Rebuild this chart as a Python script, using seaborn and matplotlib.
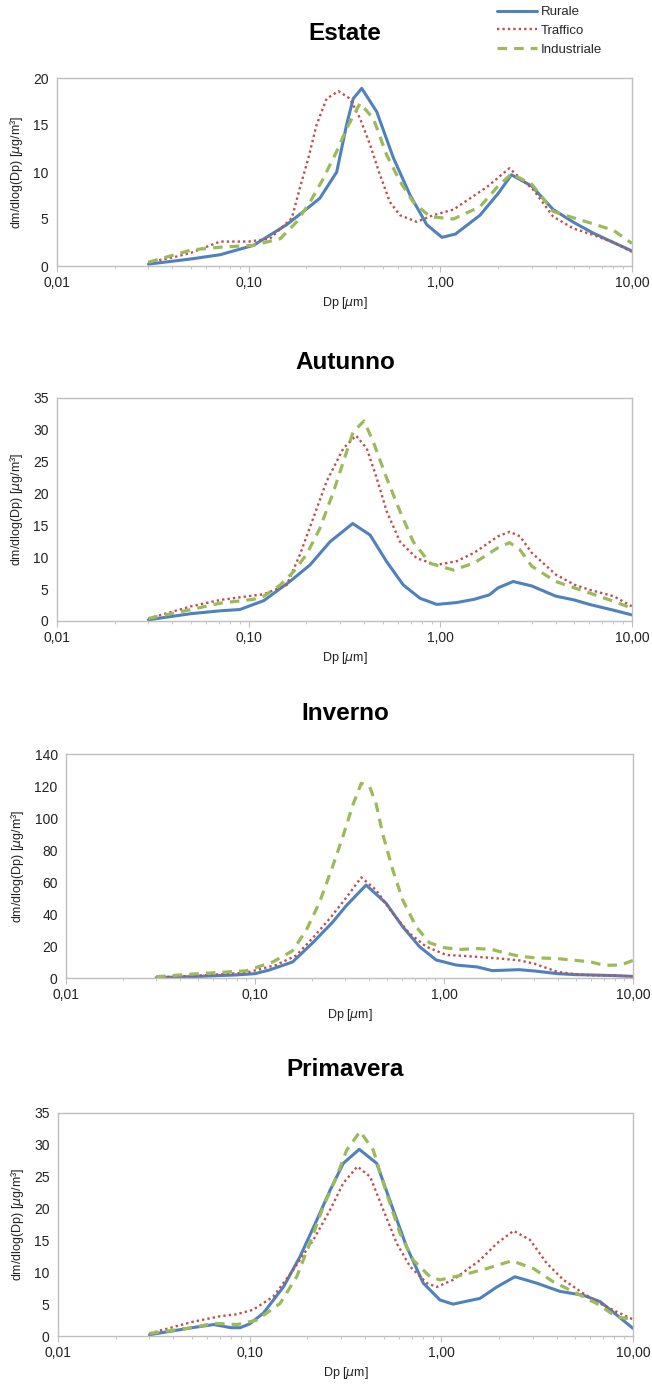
import numpy as np
import pandas as pd
import matplotlib
matplotlib.use("Agg")
import matplotlib.pyplot as plt
import seaborn as sns
from matplotlib.ticker import FixedLocator, FixedFormatter, LogLocator, NullFormatter

# ---------------- data ----------------
seasons = ["Estate", "Autunno", "Inverno", "Primavera"]
series_names = ["Rurale", "Traffico", "Industriale"]
y_limits = [20, 35, 140, 35]
y_steps = [5, 5, 20, 5]
x_ticks = [0.01, 0.1, 1, 10]
x_tick_labels = ["0,01", "0,10", "1,00", "10,00"]

# Estate
est_rur_x = [0.03, 0.05, 0.071, 0.106, 0.158, 0.193, 0.235, 0.288, 0.324, 0.351, 0.389, 0.466, 0.569, 0.695, 0.849, 1.02, 1.2, 1.61, 2.0, 2.35, 3.0, 3.88, 5.0, 6.28, 8, 10]
est_rur_y = [0.2, 0.75, 1.2, 2.2, 4.4, 5.8, 7.2, 10.0, 15.0, 17.8, 18.9, 16.4, 11.5, 7.55, 4.4, 3.05, 3.4, 5.4, 7.7, 9.7, 8.5, 6.0, 4.6, 3.5, 2.5, 1.6]
est_tra_x = [0.03, 0.04, 0.05, 0.071, 0.1, 0.129, 0.168, 0.185, 0.205, 0.226, 0.255, 0.294, 0.338, 0.381, 0.43, 0.484, 0.546, 0.616, 0.753, 0.918, 1.17, 1.75, 2.29, 3.06, 3.88, 4.94, 6.28, 8, 10]
est_tra_y = [0.4, 0.9, 1.4, 2.6, 2.6, 2.9, 5.1, 8.3, 11.5, 15.0, 17.8, 18.6, 17.8, 15.7, 12.9, 9.7, 6.8, 5.4, 4.7, 5.4, 6.0, 8.4, 10.4, 8.1, 5.25, 4.0, 3.3, 2.5, 1.5]
est_ind_x = [0.03, 0.05, 0.071, 0.106, 0.146, 0.178, 0.209, 0.245, 0.288, 0.324, 0.381, 0.447, 0.525, 0.616, 0.722, 0.883, 1.17, 1.61, 2.0, 2.35, 3.0, 3.88, 5.0, 5.8, 8, 10]
est_ind_y = [0.4, 1.7, 2.0, 2.2, 2.9, 4.7, 6.8, 9.3, 12.2, 14.6, 17.3, 15.7, 11.8, 9.0, 6.8, 5.25, 5.0, 6.3, 8.5, 9.8, 8.7, 5.8, 5.1, 4.7, 3.8, 2.4]

# Autunno
aut_rur_x = [0.03, 0.05, 0.071, 0.09, 0.106, 0.12, 0.164, 0.209, 0.266, 0.349, 0.43, 0.525, 0.641, 0.784, 0.958, 1.22, 1.5, 1.8, 2.0, 2.4, 3.0, 4, 5, 6, 8, 10]
aut_rur_y = [0.2, 1.15, 1.6, 1.8, 2.6, 3.2, 6.2, 8.8, 12.45, 15.3, 13.5, 9.3, 5.65, 3.56, 2.6, 2.9, 3.4, 4.1, 5.2, 6.2, 5.5, 3.9, 3.3, 2.6, 1.7, 0.95]
aut_tra_x = [0.03, 0.05, 0.071, 0.106, 0.12, 0.158, 0.185, 0.217, 0.255, 0.312, 0.363, 0.413, 0.466, 0.525, 0.616, 0.753, 0.958, 1.22, 1.5, 2.0, 2.3, 2.6, 3.0, 4, 5, 6, 8, 10]
aut_tra_y = [0.4, 2.3, 3.3, 4.0, 4.2, 5.65, 10.4, 16.1, 21.9, 27.1, 29.1, 27.1, 22.4, 17.2, 12.45, 9.85, 8.8, 9.4, 10.7, 13.3, 14.0, 13.3, 10.7, 7.3, 5.7, 4.9, 3.9, 2.3]
aut_ind_x = [0.03, 0.05, 0.071, 0.106, 0.12, 0.146, 0.171, 0.2, 0.235, 0.277, 0.312, 0.351, 0.4, 0.447, 0.525, 0.616, 0.722, 0.883, 1.17, 1.5, 2.0, 2.3, 2.6, 3.0, 4, 5, 6, 8, 10]
aut_ind_y = [0.4, 1.8, 2.8, 3.4, 3.9, 5.65, 7.7, 10.4, 14.5, 20.3, 25.0, 29.7, 31.4, 28.1, 22.4, 17.2, 12.45, 9.05, 8.0, 9.1, 11.5, 12.3, 11.2, 8.6, 6.2, 5.2, 4.4, 3.1, 2.0]

# Inverno
inv_rur_x = [0.03, 0.05, 0.079, 0.1, 0.119, 0.158, 0.202, 0.258, 0.303, 0.387, 0.494, 0.605, 0.742, 0.909, 1.16, 1.5, 1.8, 2.5, 3, 4, 5, 6, 8, 10]
inv_rur_y = [0.2, 1.0, 1.9, 2.7, 5.0, 10.0, 22.0, 35.0, 45.0, 58.1, 46.7, 32.0, 19.6, 11.25, 8.1, 6.9, 4.6, 5.2, 4.4, 2.7, 2.1, 1.9, 1.5, 1.0]
inv_tra_x = [0.03, 0.05, 0.09, 0.129, 0.165, 0.202, 0.248, 0.303, 0.365, 0.437, 0.536, 0.656, 0.805, 1.03, 1.2, 1.5, 2.0, 2.5, 3, 4, 5, 6, 8, 10]
inv_tra_y = [0.4, 1.5, 3.3, 8.1, 14.0, 25.0, 37.0, 50.0, 62.9, 55.0, 40.4, 27.9, 19.6, 14.4, 14.0, 13.2, 12.1, 11.0, 9.0, 3.8, 2.3, 1.7, 1.5, 1.0]
inv_ind_x = [0.03, 0.05, 0.09, 0.124, 0.158, 0.187, 0.219, 0.258, 0.291, 0.329, 0.365, 0.404, 0.437, 0.474, 0.536, 0.605, 0.713, 0.838, 1.0, 1.2, 1.5, 1.8, 2.0, 2.5, 3, 4, 5, 6, 7, 8, 9, 10]
inv_ind_y = [0.8, 2.7, 4.5, 10.0, 17.0, 30.0, 47.0, 70.0, 88.0, 108.0, 121.7, 119.6, 109.0, 90.0, 67.5, 48.7, 32.0, 22.0, 19.0, 17.8, 18.4, 17.8, 16.3, 13.6, 12.7, 12.1, 11.0, 10.0, 8.0, 8.0, 9.0, 11.0]

# Primavera
pri_rur_x = [0.03, 0.05, 0.065, 0.08, 0.089, 0.1, 0.118, 0.15, 0.183, 0.224, 0.263, 0.308, 0.373, 0.46, 0.561, 0.659, 0.805, 0.984, 1.15, 1.59, 1.95, 2.42, 3.14, 4.16, 5.5, 6.73, 8.22, 10]
pri_rur_y = [0.2, 1.3, 1.8, 1.3, 1.3, 1.9, 3.6, 7.7, 12.45, 18.2, 22.9, 27.1, 29.3, 27.1, 19.8, 14.0, 8.3, 5.65, 5.0, 5.9, 7.7, 9.3, 8.3, 7.0, 6.4, 5.4, 3.3, 1.2]
pri_tra_x = [0.03, 0.05, 0.07, 0.085, 0.104, 0.133, 0.169, 0.215, 0.263, 0.308, 0.365, 0.425, 0.498, 0.585, 0.687, 0.84, 0.946, 1.15, 1.59, 1.95, 2.38, 2.90, 3.55, 4.34, 5.5, 6.73, 8.22, 10]
pri_tra_y = [0.4, 2.2, 3.1, 3.4, 4.1, 6.2, 10.4, 15.1, 19.8, 24.0, 26.6, 25.0, 19.8, 14.55, 10.9, 8.3, 7.7, 8.8, 11.9, 14.55, 16.5, 15.1, 11.4, 8.8, 6.7, 5.1, 3.8, 2.6]
pri_ind_x = [0.03, 0.05, 0.065, 0.086, 0.109, 0.144, 0.176, 0.206, 0.242, 0.284, 0.321, 0.377, 0.441, 0.518, 0.609, 0.714, 0.873, 0.984, 1.30, 1.73, 2.33, 3.02, 3.84, 5.08, 6.46, 8.22, 10]
pri_ind_y = [0.4, 1.3, 2.0, 1.8, 2.5, 5.1, 9.3, 14.55, 20.3, 25.0, 29.2, 32.1, 29.2, 22.4, 16.1, 11.9, 9.3, 8.8, 9.6, 10.6, 11.8, 10.6, 8.5, 6.7, 5.1, 3.0, 2.6]

data = {
    "Estate": [(est_rur_x, est_rur_y), (est_tra_x, est_tra_y), (est_ind_x, est_ind_y)],
    "Autunno": [(aut_rur_x, aut_rur_y), (aut_tra_x, aut_tra_y), (aut_ind_x, aut_ind_y)],
    "Inverno": [(inv_rur_x, inv_rur_y), (inv_tra_x, inv_tra_y), (inv_ind_x, inv_ind_y)],
    "Primavera": [(pri_rur_x, pri_rur_y), (pri_tra_x, pri_tra_y), (pri_ind_x, pri_ind_y)],
}

# ---------------- styling ----------------
sns.set_style("white")
plt.rcParams["font.family"] = ["Liberation Sans", "DejaVu Sans"]
plt.rcParams["mathtext.fontset"] = "dejavusans"

colors = ["#4F81BD", "#C0504D", "#9BBB59"]
styles = [
    dict(linestyle="-", linewidth=2.2, solid_joinstyle="round", solid_capstyle="round"),
    dict(linestyle=(0, (1, 1.3)), linewidth=1.7),
    dict(linestyle=(0, (3.0, 2.2)), linewidth=2.3),
]

W, H = 652, 1385
fig = plt.figure(figsize=(W / 100, H / 100), dpi=100)

# axes boxes in pixels: (left, top, right, bottom)
boxes = [(57, 78, 632, 266), (57, 398, 632, 621), (66, 754, 633, 978), (58, 1113, 633, 1336)]
title_y = [33, 363, 713, 1070]

frame_col = "#BFBFBF"
handles, labels = None, None
for i, season in enumerate(seasons):
    l, t, r, b = boxes[i]
    ax = fig.add_axes([l / W, 1 - b / H, (r - l) / W, (b - t) / H])
    for j, name in enumerate(series_names):
        xs, ys = data[season][j]
        df = pd.DataFrame({"Dp": xs, "val": ys})
        sns.lineplot(data=df, x="Dp", y="val", ax=ax, color=colors[j],
                     label=name if i == 0 else None, legend=False, **styles[j])
    ax.set_xscale("log")
    ax.set_xlim(0.01, 10)
    ax.set_ylim(0, y_limits[i])
    ax.set_yticks(np.arange(0, y_limits[i] + 0.1, y_steps[i]))
    ax.xaxis.set_major_locator(FixedLocator(x_ticks))
    ax.xaxis.set_major_formatter(FixedFormatter(x_tick_labels))
    ax.xaxis.set_minor_locator(LogLocator(base=10, subs=np.arange(2, 10)))
    ax.xaxis.set_minor_formatter(NullFormatter())
    ax.tick_params(axis="x", which="major", direction="out", length=4, color=frame_col,
                   labelsize=10, pad=3, bottom=True, labelcolor="#222222")
    ax.tick_params(axis="x", which="minor", direction="out", length=2.5, color=frame_col, bottom=True)
    ax.tick_params(axis="y", length=0, labelsize=10, pad=6, labelcolor="#222222")
    for s in ax.spines.values():
        s.set_color(frame_col)
        s.set_linewidth(1.0)
        s.set_visible(True)
    ax.set_xlabel(r"Dp [$\mu$m]", fontsize=9, labelpad=4, color="#222222")
    ax.set_ylabel(r"dm/dlog(Dp) [$\mu$g/m³]", fontsize=9, labelpad=6, color="#222222")
    fig.text(345 / W, 1 - title_y[i] / H, season, ha="center", va="center",
             fontsize=17.5, fontweight="bold", color="black")
    if i == 0:
        handles, labels = ax.get_legend_handles_labels()

fig.legend(handles, labels, loc="upper left", bbox_to_anchor=(497 / W, 1 - 6 / H),
           frameon=False, fontsize=9.5, handlelength=3.0, handletextpad=0.3,
           labelspacing=0.5, borderpad=0, borderaxespad=0)

fig.savefig("out.png", dpi=100)
